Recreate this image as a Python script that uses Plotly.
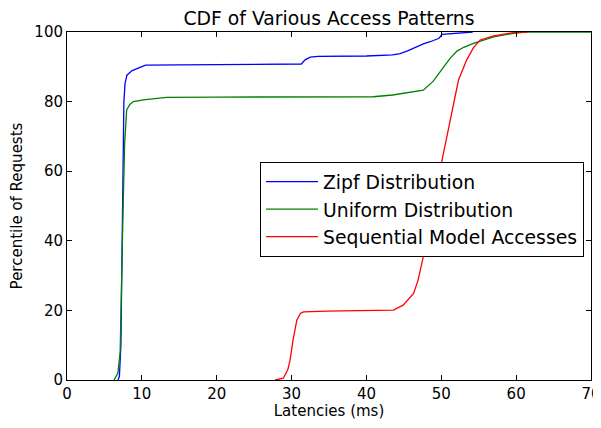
import plotly.graph_objects as go

zipf_x = [6.8, 7.0, 7.2, 7.4, 7.5, 7.6, 7.75, 8.0, 8.7, 10.5, 20, 31.3, 31.8, 32.5, 33.5, 40, 43.5, 44.5, 45.5, 46.5, 47.6, 48.5, 49.7, 50.1, 52, 54.2]
zipf_y = [0, 1, 10, 40, 65, 80, 85.2, 87.6, 88.9, 90.5, 90.6, 90.8, 92.0, 92.8, 93.0, 93.1, 93.4, 93.8, 94.6, 95.6, 96.6, 97.2, 98.2, 99.3, 99.7, 100]

unif_x = [6.3, 6.8, 7.1, 7.3, 7.5, 7.7, 7.97, 8.4, 8.86, 10.2, 13.3, 20, 30, 40.9, 43.5, 45, 46.3, 47.6, 48.9, 50.3, 51.2, 52.1, 53, 54.3, 57, 59.6, 61.3, 70]
unif_y = [0, 2, 8, 25, 50, 68, 77.6, 79.2, 80, 80.5, 81.2, 81.3, 81.3, 81.4, 81.9, 82.4, 83.0, 83.3, 85.8, 89.7, 92.5, 94.5, 95.6, 96.7, 98.6, 99.6, 100, 100]

seq_x = [27.8, 28.9, 29.5, 29.8, 30.2, 30.7, 31.2, 31.6, 34.7, 40, 43.6, 44.9, 46.3, 46.9, 47.8, 49.2, 50.1, 51.2, 52.3, 53.4, 54.3, 55.2, 57.0, 59.6, 61.5]
seq_y = [0, 0.5, 3, 5.7, 11.5, 17.2, 19.2, 19.6, 19.8, 19.9, 20.1, 21.5, 24.9, 28.7, 37.4, 48.9, 63.2, 74.7, 86.2, 92.0, 95.5, 97.7, 98.9, 99.8, 100]

names = ["Zipf Distribution", "Uniform Distribution", "Sequential Model Accesses"]
colors = ["#0000ff", "#008000", "#ff0000"]

x_ticks = [0, 10, 20, 30, 40, 50, 60, 70]
y_ticks = [0, 20, 40, 60, 80, 100]

FONT = "DejaVu Sans"
# the page body has an 8px margin, so the figure is drawn offset by (8, 8)
W, H = 593, 412
L, T, R = 59, 24, 10
B = H - (380 - 8)

fig = go.Figure()
for xs, ys, n, c in zip([zipf_x, unif_x, seq_x], [zipf_y, unif_y, seq_y], names, colors):
    fig.add_trace(go.Scatter(x=xs, y=ys, mode="lines", name=n,
                             line=dict(color=c, width=1.3)))

axis_common = dict(showgrid=False, zeroline=False, showline=True, linecolor="black",
                   linewidth=1, ticks="inside", ticklen=5, tickcolor="black",
                   mirror="ticks", automargin=False, ticklabeloverflow="allow",
                   tickfont=dict(family=FONT, size=15, color="black"))

plot_w = W - L - R
plot_h = H - T - B

fig.update_layout(
    width=W, height=H,
    margin=dict(l=L, r=R, t=T, b=B, autoexpand=False),
    paper_bgcolor="white", plot_bgcolor="white",
    font=dict(family=FONT, color="black"),
    title=dict(text="CDF of Various Access Patterns", x=(L + plot_w / 2) / W, xanchor="center",
               y=1 - 10 / H, yanchor="middle", automargin=False,
               font=dict(family=FONT, size=18.8, color="black")),
    xaxis=dict(range=[0, 70], tickvals=x_ticks, title=dict(text="Latencies (ms)", standoff=7,
               font=dict(family=FONT, size=15)), **axis_common),
    yaxis=dict(range=[0, 100], tickvals=y_ticks, title=dict(text="Percentile of Requests", standoff=8,
               font=dict(family=FONT, size=15)), **axis_common),
    legend=dict(x=(260 - 67) / plot_w, y=(380 - 162) / plot_h, xanchor="left", yanchor="top",
                bordercolor="black", borderwidth=1, bgcolor="white", itemwidth=52,
                font=dict(family=FONT, size=18.8, color="black")),
    showlegend=True,
)

fig.write_html("out.html")
